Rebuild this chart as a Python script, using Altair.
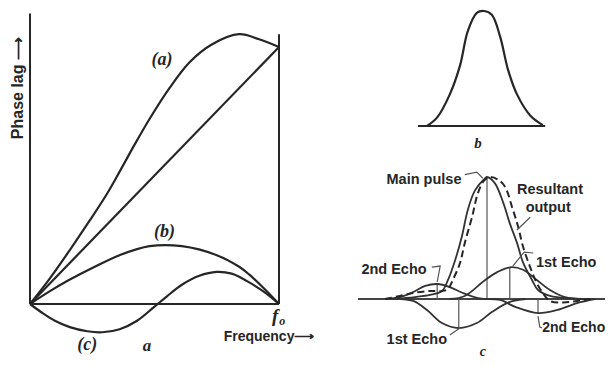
import altair as alt
import pandas as pd

# ---------------- layout (figure inside an 8px page margin) ----------
W, H = 597, 350
OFF = 8
INK = "#262626"

# ---------------- panel a : phase lag vs frequency (f / f0, relative phase) -------
a_curve_f = [0, .08, .16, .24, .31, .36, .42, .48, .56, .64, .73, .84, .92, 1.0]
a_curve_p = [0, .10, .21, .325, .43, .515, .62, .72, .84, .94, 1.01, 1.05, 1.03, 1.0]
lin_f = [0, 1.0]
lin_p = [0, 1.0]
b_curve_f = [0, .08, .16, .26, .36, .48, .61, .75, .84, .88, .94, 1.0]
b_curve_p = [0, .05, .095, .145, .19, .225, .225, .19, .145, .115, .06, 0]
c_curve_f = [0, .05, .10, .16, .23, .29, .36, .43, .50, .55, .61, .68, .75, .81, .87, .94, 1.0]
c_curve_p = [0, -.035, -.065, -.09, -.106, -.11, -.098, -.065, -.01, .03, .075, .11, .125, .118, .09, .047, 0]
frame_f = [[0, 0], [0, 1.0], [1.0, 1.0]]
frame_p = [[0, 1.13], [0, 0], [0, 1.05]]

# ---------------- panel b : single pulse --------------------------------------
pulse_t = [-.95, -.78, -.57, -.40, -.27, -.12, 0, .13, .27, .40, .55, .77, .98]
pulse_a = [0, .075, .275, .525, .825, .983, 1, .967, .775, .49, .275, .092, .008]
pulse_base_t = [-1.1, 1.02]

# ---------------- panel c : main pulse, echoes and resultant --------------------
main_t = [-1.58, -1.2, -.95, -.75, -.65, -.53, -.42, -.32, -.2, -.03, 0, .13, .27, .38, .5, .6, .75, .85, 1.05, 1.38, 1.7]
main_a = [0, .016, .033, .066, .156, .32, .51, .73, .89, .99, 1.0, .95, .79, .62, .46, .30, .156, .074, .025, .004, 0]
res_t = [-1.7, -1.45, -1.23, -.95, -.75, -.65, -.57, -.45, -.37, -.25, -.15, -.05, .05, .18, .3, .42, .52, .6, .72, .83, .93, 1.05, 1.27, 1.5, 1.72]
res_a = [0, .025, .05, .066, .066, .082, .156, .295, .46, .67, .87, .97, 1.0, .98, .92, .75, .59, .43, .26, .13, .05, -.016, -.029, -.016, 0]
echo1p_t = [-.62, -.37, -.03, .17, .38, .6, .83, 1.05, 1.3, 1.63]
echo1p_a = [0, .025, .156, .22, .26, .24, .156, .074, .016, 0]
echo1n_t = [-1.45, -1.23, -1.0, -.75, -.47, -.17, .08, .37, .65]
echo1n_a = [0, -.016, -.09, -.197, -.238, -.197, -.107, -.025, 0]
echo2p_t = [-1.7, -1.45, -1.23, -1.03, -.83, -.62, -.4, -.15, .05]
echo2p_a = [0, .016, .057, .107, .123, .098, .049, .008, 0]
echo2n_t = [0, .22, .48, .85, 1.17, 1.5, 1.8]
echo2n_a = [0, -.008, -.066, -.115, -.09, -.033, 0]
stem_t = [0, .38, -.47, -.83, .85]
stem_a = [1.0, .26, -.238, .123, -.115]
c_base_t = [-2.15, 2.3]

labels_c = ["Main pulse", "Resultant", "output", "2nd Echo", "1st Echo", "1st Echo"]
labels_c_t = [-1.05, 1.05, 1.02, -1.55, 1.32, -1.17]
labels_c_a = [.975, .89, .745, .238, .295, -.336]
label_c2 = "2nd Echo"
leader_t = [[-.37, -.17, -.07], [.72, .5], [-.92, -.78, -.83], [.77, .62, .43], [.92, .88, .85], [-.62, -.45]]
leader_a = [[1.02, 1.04, .99], [.67, .566], [.262, .27, .14], [.377, .385, .27], [-.238, -.23, -.14], [-.295, -.238]]


def xs(rx0, sx):
    return alt.Scale(domain=[(OFF - rx0) / sx, (OFF + W - rx0) / sx], zero=False, nice=False)


def ys(ry0, sy):
    return alt.Scale(domain=[(ry0 - OFF - H) / sy, (ry0 - OFF) / sy], zero=False, nice=False)


def df_series(pairs):
    rows = []
    for name, tx, ty in pairs:
        for i, (u, v) in enumerate(zip(tx, ty)):
            rows.append({"x": u, "y": v, "s": name, "i": i})
    return pd.DataFrame(rows)


def lines(df, X, Y, interp="catmull-rom", width=2.0, dash=None, color=INK):
    kw = dict(interpolate=interp, strokeWidth=width, color=color)
    if dash:
        kw["strokeDash"] = dash
    return alt.Chart(df).mark_line(**kw).encode(
        x=alt.X("x:Q", scale=X, axis=None),
        y=alt.Y("y:Q", scale=Y, axis=None),
        detail="s:N",
        order="i:Q",
    )


def text(df, X, Y, **kw):
    return alt.Chart(df).mark_text(**kw).encode(
        x=alt.X("x:Q", scale=X, axis=None),
        y=alt.Y("y:Q", scale=Y, axis=None),
        text="t:N",
    )


sans = dict(font="Liberation Sans", fontWeight="bold", color=INK)
serif_it = dict(font="Liberation Serif", fontStyle="italic", fontWeight="bold", color=INK)

# ---------------- panel a ----------------
XA, YA = xs(30, 249), ys(304, 257)
curves_a = df_series([("a", a_curve_f, a_curve_p), ("lin", lin_f, lin_p),
                      ("b", b_curve_f, b_curve_p), ("c", c_curve_f, c_curve_p)])
frame_a = df_series([(f"fr{k}", fx, fy) for k, (fx, fy) in enumerate(zip(frame_f, frame_p))])

panel_a = alt.layer(
    lines(frame_a, XA, YA, interp="linear", width=2.0),
    lines(curves_a, XA, YA, width=2.2),
    text(pd.DataFrame({"x": [.53, .54, .23], "y": [.95, .28, -.16], "t": ["(a)", "(b)", "(c)"]}),
         XA, YA, fontSize=18, **serif_it),
    text(pd.DataFrame({"x": [.47], "y": [-.165], "t": ["a"]}), XA, YA, fontSize=17, **serif_it),
    text(pd.DataFrame({"x": [.985], "y": [-.048], "t": ["f"]}), XA, YA, fontSize=19, **serif_it),
    text(pd.DataFrame({"x": [1.013], "y": [-.066], "t": ["o"]}), XA, YA, fontSize=12, **serif_it),
    text(pd.DataFrame({"x": [.96], "y": [-.13], "t": ["Frequency⟶"]}), XA, YA, fontSize=14, **sans),
    text(pd.DataFrame({"x": [-.05], "y": [.84], "t": ["Phase lag ⟶"]}), XA, YA, fontSize=16, angle=270, **sans),
)

# ---------------- panel b ----------------
XB, YB = xs(484, 60), ys(126, 115)
panel_b = alt.layer(
    lines(df_series([("base", pulse_base_t, [0, 0])]), XB, YB, interp="linear", width=2.2),
    lines(df_series([("pulse", pulse_t, pulse_a)]), XB, YB, width=2.2),
    text(pd.DataFrame({"x": [-.1], "y": [-.145], "t": ["b"]}), XB, YB, fontSize=15, **serif_it),
)

# ---------------- panel c ----------------
XC, YC = xs(487, 60), ys(299, 122)
solid_c = df_series([("main", main_t, main_a), ("e1p", echo1p_t, echo1p_a), ("e1n", echo1n_t, echo1n_a),
                     ("e2p", echo2p_t, echo2p_a), ("e2n", echo2n_t, echo2n_a)])
leaders = df_series([(f"l{k}", lt, la) for k, (lt, la) in enumerate(zip(leader_t, leader_a))])
stems = pd.DataFrame({"x": stem_t, "y": stem_a, "y0": [0] * len(stem_t)})
panel_c = alt.layer(
    lines(df_series([("base", c_base_t, [0, 0])]), XC, YC, interp="linear", width=1.8, color="#444"),
    alt.Chart(stems).mark_rule(strokeWidth=1.2, color="#555").encode(
        x=alt.X("x:Q", scale=XC, axis=None), y=alt.Y("y:Q", scale=YC, axis=None), y2="y0:Q"),
    lines(solid_c, XC, YC, width=1.8, color="#333"),
    lines(df_series([("res", res_t, res_a)]), XC, YC, width=2.0, dash=[7, 4]),
    lines(leaders, XC, YC, interp="linear", width=1.2, color="#555"),
    text(pd.DataFrame({"x": labels_c_t, "y": labels_c_a, "t": labels_c}), XC, YC, fontSize=14.5, **sans),
    text(pd.DataFrame({"x": [.92], "y": [-.238], "t": [label_c2]}), XC, YC, fontSize=14, align="left", **sans),
    text(pd.DataFrame({"x": [-.07], "y": [-.435], "t": ["c"]}), XC, YC, fontSize=14, **serif_it),
)

chart = alt.layer(panel_a, panel_b, panel_c).resolve_scale(x="independent", y="independent").properties(
    width=W, height=H, padding=0, autosize=alt.AutoSizeParams(type="none"),
    background="white",
).configure_view(stroke=None)

chart.save("out.html", embed_options={"renderer": "svg", "actions": False})
